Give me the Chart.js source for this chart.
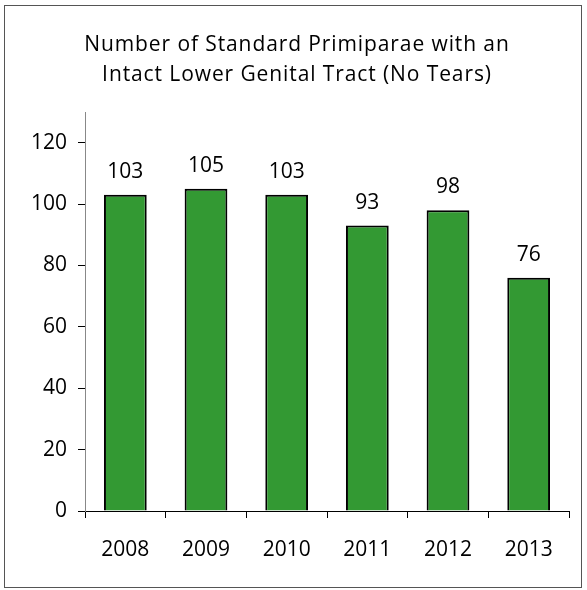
<!DOCTYPE html>
<html>
<head>
<meta charset="utf-8">
<script src="https://cdn.jsdelivr.net/npm/chart.js@4"></script>
<style>
  html, body { margin: 0; padding: 0; background: #fff; }
  #wrap { width: 587px; height: 590px; position: relative; }
</style>
</head>
<body>
<div id="wrap"><canvas id="chart1" width="587" height="590"></canvas></div>
<script>
const years = ['2008', '2009', '2010', '2011', '2012', '2013'];
const noTears = [103, 105, 103, 93, 98, 76];
const titleLines = ['Number of Standard Primiparae with an', 'Intact Lower Genital Tract (No Tears)'];
const yMax = 130;
const yStep = 20;

const fontFamily = '"Open Sans", "Liberation Sans", sans-serif';

// frame round the whole picture
const framePlugin = {
  id: 'frame',
  beforeDraw(chart) {
    const ctx = chart.ctx;
    ctx.save();
    ctx.fillStyle = '#fff';
    ctx.fillRect(0, 0, chart.width, chart.height);
    ctx.strokeStyle = '#555';
    ctx.lineWidth = 1;
    ctx.strokeRect(4.5, 5.5, 577, 582);
    ctx.restore();
  }
};

// two-line title, a little letter-spaced like the original
const spacedTitle = {
  id: 'spacedTitle',
  afterDraw(chart) {
    const ctx = chart.ctx;
    ctx.save();
    ctx.font = '21px ' + fontFamily;
    ctx.letterSpacing = '0.9px';
    ctx.fillStyle = '#000';
    ctx.textAlign = 'center';
    ctx.textBaseline = 'middle';
    titleLines.forEach((line, i) => {
      ctx.fillText(line, 297, 45 + i * 30);
    });
    ctx.restore();
  }
};

// value above each bar
const valueLabels = {
  id: 'valueLabels',
  afterDatasetsDraw(chart) {
    const ctx = chart.ctx;
    const meta = chart.getDatasetMeta(0);
    ctx.save();
    ctx.font = '21px ' + fontFamily;
    ctx.fillStyle = '#000';
    ctx.textAlign = 'center';
    ctx.textBaseline = 'middle';
    meta.data.forEach((bar, i) => {
      ctx.fillText(String(noTears[i]), bar.x, bar.y - 23);
    });
    ctx.restore();
  }
};

const ctx = document.getElementById('chart1').getContext('2d');
const chart1 = new Chart(ctx, {
  type: 'bar',
  data: {
    labels: years,
    datasets: [{
      data: noTears,
      backgroundColor: '#339933',
      borderColor: '#000',
      borderWidth: 2,
      barPercentage: 0.53,
      categoryPercentage: 1
    }]
  },
  options: {
    responsive: false,
    animation: false,
    layout: { padding: { left: 24, right: 18, top: 112, bottom: 0 } },
    plugins: {
      legend: { display: false },
      tooltip: { enabled: false },
      title: { display: false }
    },
    scales: {
      x: {
        grid: { drawOnChartArea: false, drawTicks: true, tickLength: 7, color: '#000', offset: true },
        border: { color: '#000', width: 1 },
        ticks: { color: '#000', padding: 19, font: { family: fontFamily, size: 21 } },
        afterFit(s) { s.height = 79; }
      },
      y: {
        min: 0,
        max: yMax,
        grid: { drawOnChartArea: false, drawTicks: true, tickLength: 7, color: '#000' },
        border: { color: '#888', width: 1 },
        ticks: { stepSize: yStep, color: '#000', padding: 11, font: { family: fontFamily, size: 21 } },
        afterBuildTicks(s) { s.ticks = s.ticks.filter(t => t.value <= 120); },
        afterFit(s) { s.width = 61; }
      }
    }
  },
  plugins: [framePlugin, spacedTitle, valueLabels]
});
</script>
</body>
</html>
